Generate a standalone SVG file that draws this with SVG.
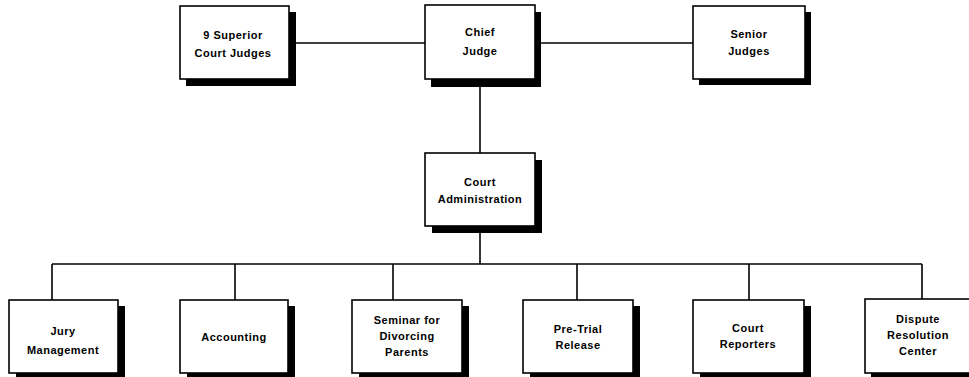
<svg xmlns="http://www.w3.org/2000/svg" width="969" height="377" viewBox="0 0 969 377">
  <style>
    .shadow { fill: #000; }
    .box { fill: #fff; stroke: #000; stroke-width: 1.6; }
    .lbl { font-family: "Liberation Sans", Arial, sans-serif; font-size: 11px; font-weight: bold; letter-spacing: 0.5px; text-anchor: middle; fill: #000; }
    .wire { stroke: #000; stroke-width: 1.6; fill: none; }
  </style>
  <rect width="969" height="377" fill="#fff"/>

  <!-- connectors -->
  <g id="connectors">
    <line class="wire" x1="289" y1="43" x2="425" y2="43"/>
    <line class="wire" x1="535" y1="43" x2="693" y2="43"/>
    <line class="wire" x1="480" y1="79" x2="480" y2="153"/>
    <line class="wire" x1="480" y1="226" x2="480" y2="264"/>
    <line class="wire" x1="52" y1="264" x2="922" y2="264"/>
    <line class="wire" x1="52" y1="264" x2="52" y2="300"/>
    <line class="wire" x1="235" y1="264" x2="235" y2="300"/>
    <line class="wire" x1="393" y1="264" x2="393" y2="300"/>
    <line class="wire" x1="577" y1="264" x2="577" y2="300"/>
    <line class="wire" x1="749" y1="264" x2="749" y2="300"/>
    <line class="wire" x1="922" y1="264" x2="922" y2="299"/>
  </g>

  <g id="superior-judges">
    <rect class="shadow" x="186" y="12" width="110" height="74"/>
    <rect class="box" x="180" y="6" width="109" height="73"/>
    <text class="lbl" x="233" y="39">9 Superior</text>
    <text class="lbl" x="233" y="57">Court Judges</text>
  </g>

  <g id="chief-judge">
    <rect class="shadow" x="431" y="12" width="110" height="75"/>
    <rect class="box" x="425" y="5" width="110" height="74"/>
    <text class="lbl" x="480" y="36">Chief</text>
    <text class="lbl" x="480" y="55">Judge</text>
  </g>

  <g id="senior-judges">
    <rect class="shadow" x="699" y="12" width="112" height="73"/>
    <rect class="box" x="693" y="6" width="112" height="73"/>
    <text class="lbl" x="749" y="38">Senior</text>
    <text class="lbl" x="749" y="55">Judges</text>
  </g>

  <g id="court-administration">
    <rect class="shadow" x="432" y="160" width="110" height="73"/>
    <rect class="box" x="425" y="153" width="110" height="73"/>
    <text class="lbl" x="480" y="186">Court</text>
    <text class="lbl" x="480" y="203">Administration</text>
  </g>

  <g id="jury-management">
    <rect class="shadow" x="16" y="306" width="109" height="73"/>
    <rect class="box" x="9" y="300" width="109" height="73"/>
    <text class="lbl" x="63" y="335">Jury</text>
    <text class="lbl" x="63" y="354">Management</text>
  </g>

  <g id="accounting">
    <rect class="shadow" x="187" y="306" width="108" height="73"/>
    <rect class="box" x="180" y="300" width="108" height="73"/>
    <text class="lbl" x="234" y="341">Accounting</text>
  </g>

  <g id="seminar">
    <rect class="shadow" x="359" y="306" width="110" height="73"/>
    <rect class="box" x="352" y="300" width="110" height="73"/>
    <text class="lbl" x="407" y="324">Seminar for</text>
    <text class="lbl" x="407" y="340">Divorcing</text>
    <text class="lbl" x="407" y="356">Parents</text>
  </g>

  <g id="pre-trial">
    <rect class="shadow" x="530" y="306" width="110" height="73"/>
    <rect class="box" x="523" y="300" width="110" height="73"/>
    <text class="lbl" x="578" y="333">Pre-Trial</text>
    <text class="lbl" x="578" y="349">Release</text>
  </g>

  <g id="court-reporters">
    <rect class="shadow" x="700" y="306" width="111" height="73"/>
    <rect class="box" x="693" y="300" width="111" height="73"/>
    <text class="lbl" x="748" y="332">Court</text>
    <text class="lbl" x="748" y="348">Reporters</text>
  </g>

  <g id="dispute-resolution">
    <rect class="shadow" x="871" y="305" width="108" height="74"/>
    <rect class="box" x="865" y="299" width="108" height="74"/>
    <text class="lbl" x="918" y="323">Dispute</text>
    <text class="lbl" x="918" y="339">Resolution</text>
    <text class="lbl" x="918" y="355">Center</text>
  </g>
</svg>
